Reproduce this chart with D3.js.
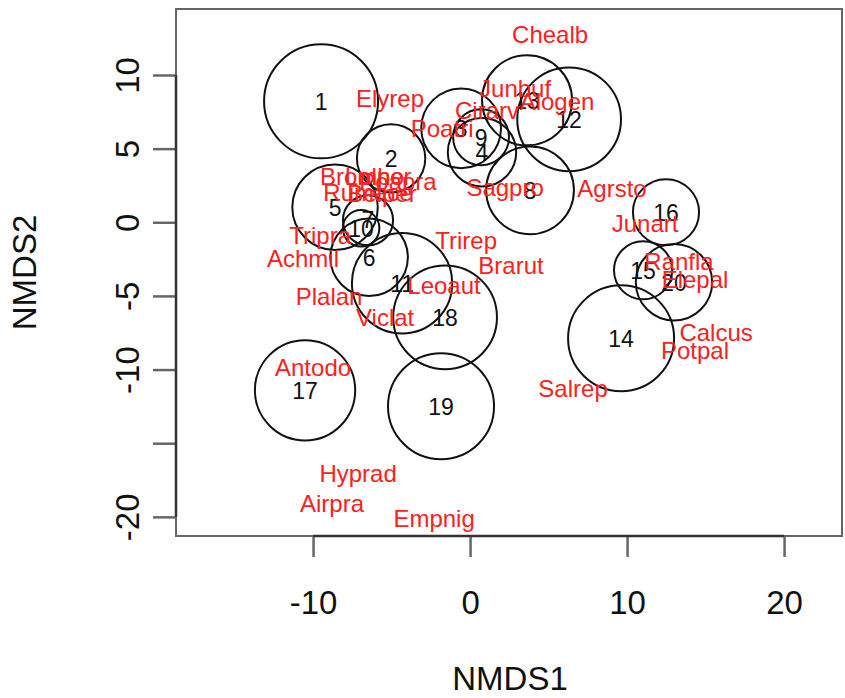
<!DOCTYPE html>
<html>
<head>
<meta charset="utf-8">
<script src="https://cdn.jsdelivr.net/npm/d3@7"></script>
<style>
  body { margin: 0; background: #fff; }
  svg { display: block; }
</style>
</head>
<body>
<div id="chart"></div>
<script>
// site scores (NMDS1, NMDS2) and the value shown as circle size
var sites = ['1','2','3','4','5','6','7','8','9','10','11','12','13','14','15','16','17','18','19','20'];
var siteX = [-9.49, -5.03, -0.57, 0.76, -8.60, -6.43, -6.50, 3.82, 0.70, -6.94, -4.33, 6.31, 3.63, 9.62, 11.02, 12.48, -10.51, -1.59, -1.85, 12.99];
var siteY = [8.21, 4.34, 6.38, 4.75, 1.02, -2.38, 0.14, 2.17, 5.77, -0.41, -4.14, 6.99, 8.28, -7.88, -3.26, 0.68, -11.41, -6.45, -12.49, -4.07];
var siteSize = [10.0, 6.0, 7.0, 6.0, 7.5, 6.8, 4.4, 7.7, 4.9, 3.2, 8.8, 9.1, 7.9, 9.3, 5.1, 5.8, 8.8, 9.1, 9.3, 6.7];

// species scores
var species = ['Chealb','Elyrep','Junbuf','Alogen','Cirarv','Poatri','Sagpro','Agrsto','Junart','Ranfla',
               'Elepal','Calcus','Potpal','Salrep','Trirep','Brarut','Leoaut','Viclat','Plalan','Tripra',
               'Achmil','Antodo','Hyprad','Airpra','Empnig','Bromho','Lolper','Poapra','Rumace','Belper'];
var specX = [5.10, -5.10, 2.87, 5.54, 1.08, -1.78, 2.23, 9.04, 11.15, 13.31,
             14.33, 15.67, 14.33, 6.56, -0.25, 2.61, -1.66, -5.41, -8.98, -9.55,
             -10.64, -10.00, -7.13, -8.79, -2.29, -6.88, -5.86, -4.59, -6.50, -5.61];
var specY = [12.76, 8.42, 9.10, 8.21, 7.60, 6.38, 2.38, 2.31, -0.07, -2.65,
             -3.87, -7.47, -8.69, -11.27, -1.22, -2.92, -4.28, -6.45, -5.02, -0.88,
             -2.44, -9.84, -17.04, -19.08, -20.10, 3.12, 3.12, 2.78, 2.04, 1.97];

var xTicks = [-10, 0, 10, 20];
var xTickLabels = ['-10', '0', '10', '20'];
var yTicks = [-20, -15, -10, -5, 0, 5, 10];
var yTickLabels = ['-20', '', '-10', '-5', '0', '5', '10'];

var W = 845, H = 698;
var margin = {top: 9, right: 3, bottom: 162, left: 176};
var width = W - margin.left - margin.right,
    height = H - margin.top - margin.bottom;
var font = '"Liberation Sans", Arial, Helvetica, sans-serif';

var x = d3.scaleLinear().domain([-18.73, 23.69]).range([0, width]);
var y = d3.scaleLinear().domain([-21.3, 14.48]).range([height, 0]);
var r = d3.scaleLinear().domain([0, 10]).range([0, 57]);

var svg = d3.select('#chart').append('svg')
    .attr('width', W)
    .attr('height', H)
  .append('g')
    .attr('transform', 'translate(' + margin.left + ',' + margin.top + ')');

// plot box
svg.append('rect')
  .attr('x', 0).attr('y', 0)
  .attr('width', width).attr('height', height)
  .attr('fill', 'none')
  .attr('stroke', '#666')
  .attr('stroke-width', 2);

// x axis
var gx = svg.append('g')
  .attr('transform', 'translate(0,' + height + ')')
  .call(d3.axisBottom(x).tickValues(xTicks).tickSize(21).tickPadding(34)
    .tickFormat(function(d, i) { return xTickLabels[i]; }));
gx.select('.domain').remove();
gx.selectAll('line').attr('stroke', '#666').attr('stroke-width', 2.5);
gx.selectAll('text').attr('font-family', font).attr('font-size', 33).attr('fill', '#111');
gx.append('line')
  .attr('x1', x(xTicks[0])).attr('x2', x(xTicks[xTicks.length - 1]))
  .attr('stroke', '#333').attr('stroke-width', 2.5);

// y axis, labels turned like R's default las=0
var gy = svg.append('g')
  .call(d3.axisLeft(y).tickValues(yTicks).tickSize(23).tickFormat(function(d, i) { return yTickLabels[i]; }));
gy.select('.domain').remove();
gy.selectAll('line').attr('stroke', '#666').attr('stroke-width', 2.5);
gy.selectAll('text')
  .attr('transform', 'rotate(-90)')
  .attr('x', 0)
  .attr('y', -37)
  .attr('dy', 0)
  .attr('text-anchor', 'middle')
  .attr('font-family', font).attr('font-size', 33).attr('fill', '#111');
gy.append('line')
  .attr('y1', y(yTicks[0])).attr('y2', y(yTicks[yTicks.length - 1]))
  .attr('stroke', '#333').attr('stroke-width', 2.5);

// axis titles
svg.append('text')
  .attr('x', width / 2 + 1)
  .attr('y', height + 154)
  .attr('text-anchor', 'middle')
  .attr('font-family', font).attr('font-size', 33).attr('fill', '#111')
  .text('NMDS1');

svg.append('text')
  .attr('transform', 'translate(' + (-140) + ',' + (height / 2) + ') rotate(-90)')
  .attr('text-anchor', 'middle')
  .attr('font-family', font).attr('font-size', 33).attr('fill', '#111')
  .text('NMDS2');

// site circles
var siteData = sites.map(function(s, i) {
  return {label: s, x: siteX[i], y: siteY[i], size: siteSize[i]};
});

svg.selectAll('.site')
  .data(siteData)
  .enter()
  .append('circle')
  .attr('class', 'site')
  .attr('cx', function(d) { return x(d.x); })
  .attr('cy', function(d) { return y(d.y); })
  .attr('r', function(d) { return r(d.size); })
  .attr('fill', 'none')
  .attr('stroke', '#111')
  .attr('stroke-width', 2);

svg.selectAll('.siteLabel')
  .data(siteData)
  .enter()
  .append('text')
  .attr('class', 'siteLabel')
  .attr('x', function(d) { return x(d.x); })
  .attr('y', function(d) { return y(d.y); })
  .attr('dy', '0.36em')
  .attr('text-anchor', 'middle')
  .attr('font-family', font).attr('font-size', 23).attr('fill', '#111')
  .text(function(d) { return d.label; });

// species names in red
svg.selectAll('.spec')
  .data(species)
  .enter()
  .append('text')
  .attr('class', 'spec')
  .attr('x', function(d, i) { return x(specX[i]); })
  .attr('y', function(d, i) { return y(specY[i]); })
  .attr('dy', '0.36em')
  .attr('text-anchor', 'middle')
  .attr('font-family', font).attr('font-size', 24).attr('fill', '#ff2020')
  .text(function(d) { return d; });
</script>
</body>
</html>
